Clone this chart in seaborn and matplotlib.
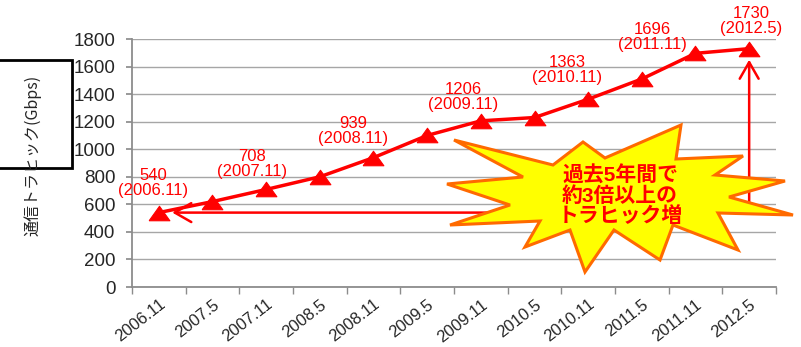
import numpy as np
import pandas as pd
import matplotlib.pyplot as plt
import seaborn as sns
from matplotlib.patches import Polygon, Rectangle

# data
months = ["2006.11", "2007.5", "2007.11", "2008.5", "2008.11", "2009.5",
          "2009.11", "2010.5", "2010.11", "2011.5", "2011.11", "2012.5"]
traffic = [540, 620, 708, 800, 939, 1100, 1206, 1230, 1363, 1510, 1696, 1730]
labelled = [0, 2, 4, 6, 8, 10, 11]
label_offsets = [(-6, 30), (-14, 25), (-20, 27), (-18, 24), (-21, 29), (-43, 16), (2, 28)]
callout = "過去5年間で\n約3倍以上の\nトラヒック増"
ylabel = "通信トラヒック(Gbps)"

RED = "#ff0000"
W, H = 801, 347

sns.set_theme(style="white")
plt.rcParams['font.family'] = ['Liberation Sans', 'Noto Sans CJK JP', 'DejaVu Sans']

fig = plt.figure(figsize=(W / 100, H / 100), dpi=100)
ax = fig.add_axes([132 / W, 1 - 287 / H, (776 - 132) / W, (287 - 39) / H])

df = pd.DataFrame({"pos": np.arange(len(months)), "traffic": traffic})
tri = [(-1, -0.7), (1, -0.7), (0, 0.7), (-1, -0.7)]
sns.lineplot(data=df, x="pos", y="traffic", ax=ax, color=RED, lw=2.5,
             marker=tri, markersize=15, markeredgecolor=RED, zorder=3)

# value labels
for i, (dx, dy) in zip(labelled, label_offsets):
    ax.annotate(f"{traffic[i]}\n({months[i]})", xy=(i, traffic[i]),
                xytext=(dx, dy), textcoords="offset pixels",
                ha="center", va="center", color=RED, fontsize=12,
                linespacing=1.0, zorder=4)

# arrows (start hidden behind the star)
arrow_style = dict(arrowstyle="->,head_length=0.7,head_width=0.4", color=RED,
                   lw=1.8, mutation_scale=17, shrinkA=0, shrinkB=0)
ax.annotate("", xy=(0.25, traffic[0]), xytext=(7.0, traffic[0]),
            arrowprops=arrow_style, zorder=2)
last = len(months) - 1
ax.annotate("", xy=(last, 1650), xytext=(last, 560),
            arrowprops=arrow_style, zorder=2)

# axes styling
ax.set_xlim(-0.5, len(months) - 0.5)
ax.set_ylim(0, 1800)
ax.set_yticks(np.arange(0, 1801, 200))
ax.set_xticks(np.arange(len(months)))
ax.set_xticklabels(months, rotation=38, ha="right", va="top",
                   rotation_mode="anchor")
ax.set_xticks(np.arange(-0.5, len(months)), minor=True)
ax.set_xlabel("")
ax.set_ylabel("")
ax.yaxis.grid(True, color="#a6a6a6", lw=1)
ax.xaxis.grid(False)
for s in ["top", "right"]:
    ax.spines[s].set_visible(False)
for s in ["left", "bottom"]:
    ax.spines[s].set_color("#8c8c8c")
    ax.spines[s].set_linewidth(1.3)
ax.tick_params(axis="y", left=True, length=4, color="#8c8c8c", labelsize=13.5, pad=8)
ax.tick_params(axis="x", which="major", bottom=False, length=0, labelsize=12, pad=7)
ax.tick_params(axis="x", which="minor", bottom=True, length=5, color="#8c8c8c")

# explosion callout
star_px = [(454, 140), (553, 165), (583, 142), (605, 158), (681, 125), (676, 159),
           (743, 156), (715, 175), (785, 181), (729, 197), (793, 215), (718, 213),
           (738, 250), (673, 225), (660, 260), (614, 230), (585, 272), (570, 230),
           (525, 247), (540, 221), (450, 225), (510, 205), (447, 184), (523, 177)]
star = Polygon([(x / W, 1 - y / H) for x, y in star_px], closed=True,
               transform=fig.transFigure, facecolor="#ffff00",
               edgecolor="#ff6a00", lw=2.2, zorder=5)
fig.add_artist(star)
fig.text(620 / W, 1 - 196 / H, callout, ha="center", va="center", color=RED,
         fontsize=15, fontweight="bold", linespacing=1.02,
         family=['Liberation Sans', 'Noto Sans CJK JP'], zorder=6)

# y label in box
fig.add_artist(Rectangle((-0.01, 1 - 168 / H), 72 / W + 0.01, 108 / H,
                         transform=fig.transFigure, fill=False,
                         edgecolor="black", lw=2, zorder=3))
fig.text(33 / W, 1 - 155 / H, ylabel, rotation=90, ha="center", va="center",
         fontsize=11.5, family=['Noto Sans CJK JP'])

fig.savefig("out.png", dpi=100)
